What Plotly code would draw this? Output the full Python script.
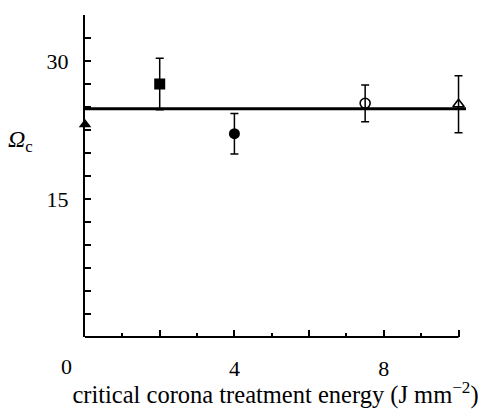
import plotly.graph_objects as go

# Data
energy = [0.0, 2.0, 4.0, 7.5, 10.0]
omega_c = [23.1, 27.5, 22.1, 25.4, 25.3]
omega_err = [0.0, 2.8, 2.2, 2.0, 3.1]
symbols = ["triangle-up", "square", "circle", "circle-open", "triangle-up-open"]
fit_x = [0.0, 10.2]
fit_y = [24.8, 24.8]

x_major = [2, 4, 6, 8, 10]
x_minor = [1, 3, 5, 7, 9]
x_labels = ["", "4", "", "8", ""]
y_ticks = [2.5 * i for i in range(1, 15)]
y_labels = ["15" if v == 15 else ("30" if v == 30 else "") for v in y_ticks]

FONT = "Liberation Serif, Times New Roman, serif"

fig = go.Figure()

fig.add_trace(go.Scatter(
    x=fit_x, y=fit_y, mode="lines",
    line=dict(color="black", width=3), showlegend=False, hoverinfo="skip",
))

for xv, yv, ev, sym in zip(energy, omega_c, omega_err, symbols):
    is_open = "open" in sym
    fig.add_trace(go.Scatter(
        x=[xv], y=[yv], mode="markers",
        marker=dict(symbol=sym, size=11 if not is_open else 10,
                    color="black", line=dict(color="black", width=1.6 if is_open else 0)),
        error_y=dict(type="data", array=[ev], visible=ev > 0,
                     color="black", thickness=1.5, width=4),
        cliponaxis=False, showlegend=False,
    ))

# x-axis baseline from 0 to 10
fig.add_shape(type="line", xref="x", yref="paper", x0=0, x1=10, y0=0, y1=0,
              line=dict(color="black", width=2))

fig.add_annotation(x=0, y=0, xref="x", yref="paper", text="0", showarrow=False,
                   xanchor="center", yanchor="middle",
                   xshift=-19, yshift=-29, font=dict(family=FONT, size=22, color="black"))
fig.add_annotation(x=-0.17, y=21.3, xref="paper", yref="y",
                   text="<i>Ω</i><sub>c</sub>", showarrow=False,
                   xanchor="center", yanchor="middle",
                   font=dict(family=FONT, size=24, color="black"))

fig.update_layout(
    width=479, height=409,
    margin=dict(l=85, r=479 - 85 - int(round(374 * 1.02)), t=15, b=72),
    paper_bgcolor="white", plot_bgcolor="white",
    font=dict(family=FONT, size=22, color="black"),
    xaxis=dict(
        range=[0, 10.2], showline=False, showgrid=False, zeroline=False,
        automargin=False,
        tickmode="array", tickvals=x_major, ticktext=x_labels,
        ticks="inside", ticklen=7, tickwidth=1.5, tickcolor="black",
        ticklabelstandoff=16,
        minor=dict(tickmode="array", tickvals=x_minor, ticks="inside",
                   ticklen=4, tickwidth=1.5, tickcolor="black"),
        title=dict(text="critical corona treatment energy (J mm<sup>−2</sup>)",
                   font=dict(family=FONT, size=24.5), standoff=10),
    ),
    yaxis=dict(
        range=[0, 35], showline=True, linecolor="black", linewidth=2,
        showgrid=False, zeroline=False, automargin=False,
        tickmode="array", tickvals=y_ticks, ticktext=y_labels,
        ticks="inside", ticklen=6, tickwidth=1.5, tickcolor="black",
        ticklabelstandoff=10,
    ),
)

fig.write_html("out.html", config={"displayModeBar": False},
               post_script="document.body.style.margin='0';")
